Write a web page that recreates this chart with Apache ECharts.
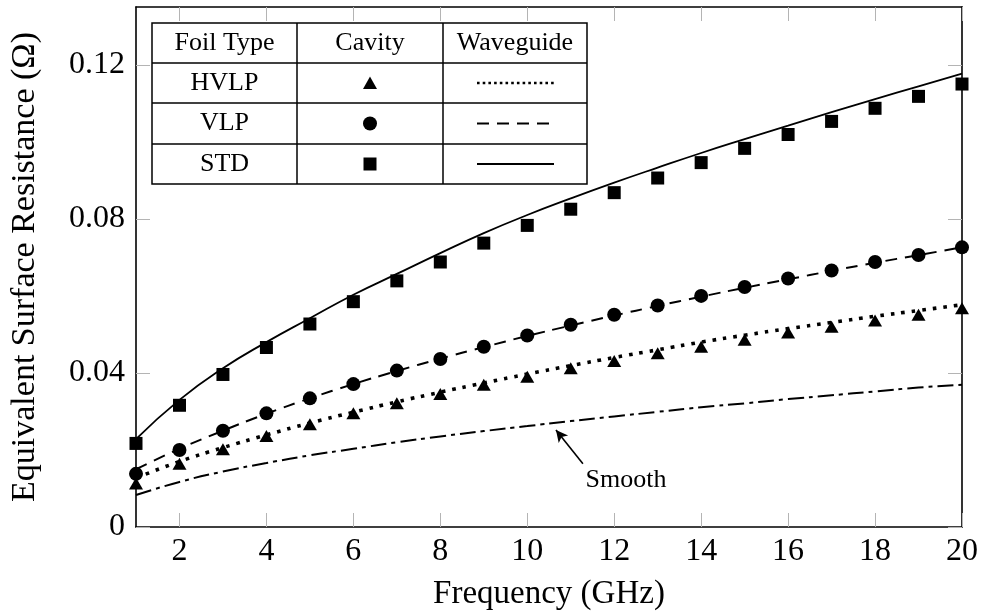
<!DOCTYPE html>
<html>
<head>
<meta charset="utf-8">
<script src="https://cdn.jsdelivr.net/npm/echarts@6/dist/echarts.min.js"></script>
<style>html,body{margin:0;padding:0;background:#fff}#c{width:982px;height:615px}</style>
</head>
<body>
<div id="c"></div>
<script>
// ---- data ----
const freq = [1,2,3,4,5,6,7,8,9,10,11,12,13,14,15,16,17,18,19,20];
const hvlpCavity = [0.0113,0.0164,0.0202,0.0236,0.0267,0.0295,0.0321,0.0345,0.0369,0.0390,0.0412,0.0431,0.0451,0.0468,0.0486,0.0505,0.0520,0.0536,0.0551,0.0568];
const vlpCavity  = [0.0138,0.0200,0.0250,0.0295,0.0334,0.0371,0.0406,0.0436,0.0468,0.0497,0.0525,0.0551,0.0575,0.0600,0.0623,0.0645,0.0666,0.0688,0.0706,0.0726];
const stdCavity  = [0.0217,0.0316,0.0396,0.0466,0.0527,0.0585,0.0639,0.0688,0.0737,0.0783,0.0825,0.0868,0.0906,0.0946,0.0983,0.1019,0.1053,0.1087,0.1118,0.1150];
const hvlpWaveguide = [0.0127,0.0170,0.0206,0.0239,0.0270,0.0298,0.0325,0.0350,0.0374,0.0397,0.0419,0.0440,0.0460,0.0480,0.0498,0.0515,0.0531,0.0547,0.0562,0.0577];
const vlpWaveguide  = [0.0150,0.0203,0.0250,0.0294,0.0334,0.0371,0.0405,0.0437,0.0467,0.0496,0.0523,0.0549,0.0574,0.0598,0.0621,0.0643,0.0665,0.0686,0.0706,0.0726];
const stdWaveguide  = [0.0228,0.0330,0.0412,0.0480,0.0542,0.0603,0.0657,0.0711,0.0763,0.0810,0.0853,0.0894,0.0933,0.0971,0.1007,0.1042,0.1077,0.1111,0.1144,0.1177];
const smoothWaveguide = [0.0083,0.0117,0.0144,0.0166,0.0186,0.0203,0.0220,0.0235,0.0249,0.0262,0.0275,0.0287,0.0299,0.0311,0.0321,0.0332,0.0342,0.0352,0.0362,0.0369];
const xTicks = [2,4,6,8,10,12,14,16,18,20];
const yTicks = [0,0.04,0.08,0.12];
const smoothArrow = [[11.28,0.0164],[10.66,0.0252]];
const smoothLabelAt = [12.27,0.0122];
const tableHeader = ['Foil Type','Cavity','Waveguide'];
const tableRows = ['HVLP','VLP','STD'];

const FONT = 'Liberation Serif';
const pair = (ys) => freq.map((f,i)=>[f, ys[i]]);

const chart = echarts.init(document.getElementById('c'), null, {renderer:'canvas'});

const tickStyle = {show:true, inside:true, length:14, lineStyle:{color:'#b4b4b4', width:1}};
const axisLineStyle = {show:true, onZero:false, lineStyle:{color:'#000', width:1.6}};

// legend table geometry (layout only)
const T = {x0:152, x1:587, c1:297, c2:443, y:[23,63,103,144,184]};
const colC = [(T.x0+T.c1)/2, (T.c1+T.c2)/2, (T.c2+T.x1)/2];
const rowC = [0,1,2,3].map(i => (T.y[i]+T.y[i+1])/2);
const g = [];
g.push({type:'rect', shape:{x:T.x0,y:T.y[0],width:T.x1-T.x0,height:T.y[4]-T.y[0]}, style:{fill:'#fff',stroke:'#000',lineWidth:1.5}, z:100});
[1,2,3].forEach(i=>g.push({type:'line', shape:{x1:T.x0,y1:T.y[i],x2:T.x1,y2:T.y[i]}, style:{stroke:'#000',lineWidth:1.5}, z:101}));
[T.c1,T.c2].forEach(x=>g.push({type:'line', shape:{x1:x,y1:T.y[0],x2:x,y2:T.y[4]}, style:{stroke:'#000',lineWidth:1.5}, z:101}));
tableHeader.forEach((t,i)=>g.push({type:'text', x:colC[i], y:rowC[0], style:{text:t, font:'26px "'+FONT+'"', fill:'#000', align:'center', verticalAlign:'middle'}, z:102}));
tableRows.forEach((t,i)=>g.push({type:'text', x:colC[0], y:rowC[i+1], style:{text:t, font:'26px "'+FONT+'"', fill:'#000', align:'center', verticalAlign:'middle'}, z:102}));
// cavity markers
g.push({type:'polygon', shape:{points:[[colC[1],rowC[1]-6.5],[colC[1]+7,rowC[1]+6],[colC[1]-7,rowC[1]+6]]}, style:{fill:'#000'}, z:102});
g.push({type:'circle', shape:{cx:colC[1],cy:rowC[2],r:7}, style:{fill:'#000'}, z:102});
g.push({type:'rect', shape:{x:colC[1]-6.5,y:rowC[3]-6.5,width:13,height:13}, style:{fill:'#000'}, z:102});
// waveguide lines
g.push({type:'line', shape:{x1:477,y1:rowC[1],x2:554,y2:rowC[1]}, style:{stroke:'#000',lineWidth:2.6,lineDash:[2.6,3.1]}, z:102});
g.push({type:'line', shape:{x1:477,y1:rowC[2],x2:554,y2:rowC[2]}, style:{stroke:'#000',lineWidth:2.2,lineDash:[12,8]}, z:102});
g.push({type:'line', shape:{x1:477,y1:rowC[3],x2:554,y2:rowC[3]}, style:{stroke:'#000',lineWidth:2.2}, z:102});

const option = {
  animation:false,
  backgroundColor:'#fff',
  grid:{left:136, right:20, top:7, bottom:88, containLabel:false, outerBoundsMode:'none'},
  xAxis:[
    {type:'value', position:'bottom', min:1, max:20,
     axisLine:axisLineStyle,
     axisTick:Object.assign({customValues:xTicks}, tickStyle),
     axisLabel:{customValues:xTicks, color:'#000', fontFamily:FONT, fontSize:32, margin:9},
     splitLine:{show:false},
     name:'Frequency (GHz)', nameLocation:'middle', nameGap:51,
     nameTextStyle:{color:'#000', fontFamily:FONT, fontSize:33}},
    {type:'value', position:'top', min:1, max:20,
     axisLine:axisLineStyle,
     axisTick:Object.assign({customValues:xTicks}, tickStyle),
     axisLabel:{show:false}, splitLine:{show:false}}
  ],
  yAxis:[
    {type:'value', position:'left', min:0, max:0.135,
     axisLine:axisLineStyle,
     axisTick:Object.assign({customValues:yTicks}, tickStyle),
     axisLabel:{customValues:yTicks, color:'#000', fontFamily:FONT, fontSize:32, margin:11},
     splitLine:{show:false},
     name:'Equivalent Surface Resistance (Ω)', nameLocation:'middle', nameGap:94,
     nameTextStyle:{color:'#000', fontFamily:FONT, fontSize:34}},
    {type:'value', position:'right', min:0, max:0.135,
     axisLine:axisLineStyle,
     axisTick:Object.assign({customValues:yTicks}, tickStyle),
     axisLabel:{show:false}, splitLine:{show:false}}
  ],
  series:[
    {name:'Smooth', type:'line', data:pair(smoothWaveguide), smooth:true, showSymbol:false, symbol:'none',
     lineStyle:{color:'#000', width:2, type:[16,5,4,5], cap:'butt'}, z:2,
     markLine:{silent:true, symbol:['none','arrow'], symbolSize:[9,12], label:{show:false},
       lineStyle:{color:'#000', width:1.6, type:'solid'},
       data:[[{coord:smoothArrow[0]},{coord:smoothArrow[1]}]]},
     markPoint:{silent:true, symbol:'rect', symbolSize:1, itemStyle:{color:'rgba(0,0,0,0)'},
       label:{show:true, position:'inside', formatter:'Smooth', color:'#000', fontFamily:FONT, fontSize:26},
       data:[{coord:smoothLabelAt}]}},
    {name:'HVLP waveguide', type:'line', data:pair(hvlpWaveguide), smooth:true, showSymbol:false, symbol:'none',
     lineStyle:{color:'#000', width:3.6, type:[3.6,7], cap:'butt'}, z:2},
    {name:'VLP waveguide', type:'line', data:pair(vlpWaveguide), smooth:true, showSymbol:false, symbol:'none',
     lineStyle:{color:'#000', width:2, type:[12,8], cap:'butt'}, z:2},
    {name:'STD waveguide', type:'line', data:pair(stdWaveguide), smooth:true, showSymbol:false, symbol:'none',
     lineStyle:{color:'#000', width:1.8, type:'solid'}, z:2},
    {name:'HVLP cavity', type:'scatter', data:pair(hvlpCavity), symbol:'triangle', symbolSize:[14,12],
     itemStyle:{color:'#000', opacity:1}, z:3},
    {name:'VLP cavity', type:'scatter', data:pair(vlpCavity), symbol:'circle', symbolSize:14,
     itemStyle:{color:'#000', opacity:1}, z:3},
    {name:'STD cavity', type:'scatter', data:pair(stdCavity), symbol:'rect', symbolSize:13,
     itemStyle:{color:'#000', opacity:1}, z:3}
  ],
  graphic:g
};
chart.setOption(option);
</script>
</body>
</html>
